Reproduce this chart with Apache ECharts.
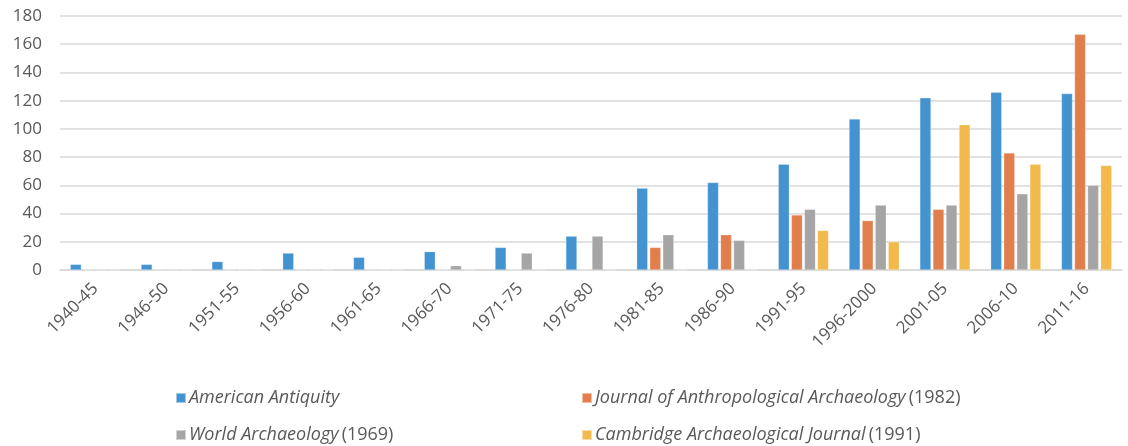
<!DOCTYPE html>
<html>
<head>
<meta charset="utf-8">
<script src="https://cdn.jsdelivr.net/npm/echarts@6/dist/echarts.min.js"></script>
<style>
  html, body { margin: 0; padding: 0; background: #fff; }
  #main { width: 1128px; height: 446px; }
</style>
</head>
<body>
<div id="main"></div>
<script>
var periods = ["1940-45", "1946-50", "1951-55", "1956-60", "1961-65", "1966-70", "1971-75", "1976-80",
  "1981-85", "1986-90", "1991-95", "1996-2000", "2001-05", "2006-10", "2011-16"];
var americanAntiquity = [4, 4, 6, 12, 9, 13, 16, 24, 58, 62, 75, 107, 122, 126, 125];
var journalAnthArch = [0, 0, 0, 0, 0, 0, 0, 0, 16, 25, 39, 35, 43, 83, 167];
var worldArch = [0, 0, 0, 0, 0, 3, 12, 24, 25, 21, 43, 46, 46, 54, 60];
var cambridgeArchJ = [0, 0, 0, 0, 0, 0, 0, 0, 0, 0, 28, 20, 103, 75, 74];
var yTicks = { min: 0, max: 180, step: 20 };

var journals = [
  { name: "American Antiquity", year: "", data: americanAntiquity, color: "#4393d0" },
  { name: "Journal of Anthropological Archaeology", year: "(1982)", data: journalAnthArch, color: "#e17f4c" },
  { name: "World Archaeology", year: "(1969)", data: worldArch, color: "#a5a5a5" },
  { name: "Cambridge Archaeological Journal", year: "(1991)", data: cambridgeArchJ, color: "#f2b94c" }
];
// legend slots: 2 columns x 2 rows
var legendLeft = [175, 581, 175, 581];
var legendTop = [389, 389, 426, 426];

var chart = echarts.init(document.getElementById("main"));
var font = "'Open Sans', sans-serif";

// legend: journal title in italics, founding year upright
function legendText(name) {
  var j = journals.filter(function (d) { return d.name === name; })[0];
  return "{it|" + j.name + "}" + (j.year ? " {n|" + j.year + "}" : "");
}

var option = {
  animation: false,
  textStyle: { fontFamily: font },
  grid: { left: 60, right: 6, top: 16, bottom: 176 },
  legend: journals.map(function (j, i) {
    return {
      data: [j.name],
      left: legendLeft[i],
      top: legendTop[i],
      padding: 0,
      icon: "rect",
      itemWidth: 10,
      itemHeight: 10,
      formatter: legendText,
      textStyle: {
        color: "#595959",
        fontFamily: font,
        padding: [0, 0, 0, -2],
        rich: {
          it: { fontStyle: "italic", fontSize: 18, color: "#595959", fontFamily: font },
          n: { fontSize: 18, color: "#595959", fontFamily: font }
        }
      }
    };
  }),
  xAxis: {
    type: "category",
    data: periods,
    axisLine: { lineStyle: { color: "#d9d9d9", width: 1.5 } },
    axisTick: { show: false },
    axisLabel: { rotate: 45, color: "#595959", fontSize: 17, margin: 16, interval: 0 }
  },
  yAxis: {
    type: "value",
    min: yTicks.min,
    max: yTicks.max,
    interval: yTicks.step,
    axisLine: { show: false },
    axisTick: { show: false },
    axisLabel: { color: "#595959", fontSize: 17, margin: 18 },
    splitLine: { lineStyle: { color: "#d9d9d9", width: 1.5 } }
  },
  series: journals.map(function (j) {
    return {
      name: j.name,
      type: "bar",
      data: j.data,
      barGap: "18%",
      barCategoryGap: "29%",
      itemStyle: { color: j.color, borderColor: "rgba(255,255,255,0.5)", borderWidth: 0.5 }
    };
  })
};
chart.setOption(option);
</script>
</body>
</html>
